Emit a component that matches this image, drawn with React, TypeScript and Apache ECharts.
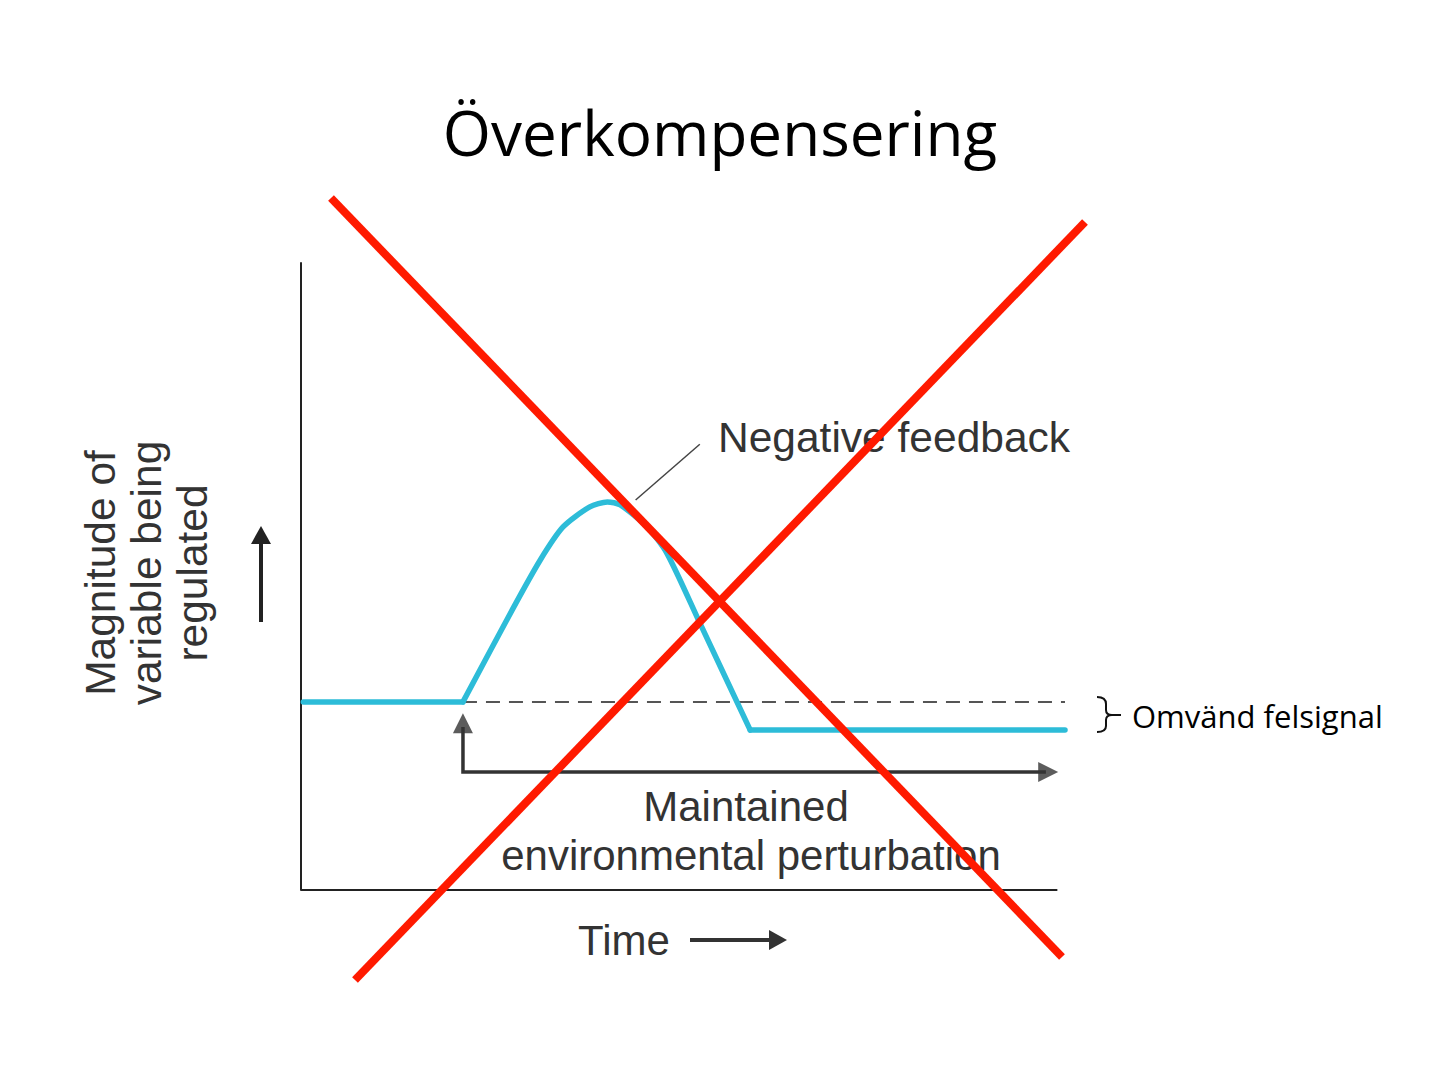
import React, { useEffect, useRef } from "react";
import * as echarts from "echarts";

// ---- data (time units 0..100, magnitude units 0..100) ----
const titleText = "Överkompensering";
const flatBeforeX = [0.3, 21.2];
const flatBeforeY = [30.0, 30.0];
const responseX = [21.2, 27.7, 31.3, 34.3, 37.8, 40.1, 41.8, 45.3, 47.9, 52.2, 58.8];
const responseY = [30.0, 44.8, 52.6, 57.9, 61.1, 61.9, 61.4, 57.9, 53.7, 42.6, 25.5];
const flatAfterX = [58.8, 100];
const flatAfterY = [25.5, 25.5];
const setPointX = [21.2, 100];
const setPointY = [30.0, 30.0];
const baselineX = [0, 99];
const baselineY = [0, 0];
const perturbX = [21.2, 21.2, 97.5];
const perturbY = [26.0, 18.8, 18.8];
const arrowHeadX = [21.2, 97.8];
const arrowHeadY = [26.6, 18.8];
const arrowHeadRot = [0, -90];
const pointerX = [43.8, 52.2];
const pointerY = [62.2, 71.1];

const labelNegative = "Negative feedback";
const labelMaintained = "Maintained";
const labelEnv = "environmental perturbation";
const labelTime = "Time";
const yLabelLines = ["Magnitude of", "variable being", "regulated"];
const labelOmvand = "Omvänd felsignal";

const zip = (xs: number[], ys: number[]) => xs.map((x, i) => [x, ys[i]]);

const BRACE =
  "M1097,697 Q1106,697 1106,704 L1106,710 Q1106,715 1112,715 L1121,715 M1112,715 Q1106,715 1106,720 L1106,726 Q1106,732 1097,732";

export default function App() {
  const ref = useRef<HTMLDivElement>(null);
  useEffect(() => {
    if (!ref.current) return;
    echarts.graphic.registerShape("brace", echarts.graphic.extendPath(BRACE, {}));
    const chart = echarts.init(ref.current, undefined, { renderer: "svg" });
    const sans = "'Liberation Sans', Arial, sans-serif";
    const gray = "#333333";
    const cyan = "#2dbcd8";
    const curveLine = (xs: number[], ys: number[], smooth: number | boolean) => ({
      type: "line",
      data: zip(xs, ys),
      symbol: "none",
      smooth,
      clip: false,
      lineStyle: { color: cyan, width: 5.5, join: "round", cap: "round" },
      z: 3,
    });
    chart.setOption({
      animation: false,
      backgroundColor: "#ffffff",
      grid: { left: 301, right: 378, top: 263, bottom: 187 },
      xAxis: {
        type: "value",
        min: 0,
        max: 100,
        axisLine: { show: false },
        axisTick: { show: false },
        axisLabel: { show: false },
        splitLine: { show: false },
      },
      yAxis: {
        type: "value",
        min: 0,
        max: 100,
        axisLine: { show: true, onZero: false, lineStyle: { color: "#222", width: 2 } },
        axisTick: { show: false },
        axisLabel: { show: false },
        splitLine: { show: false },
      },
      series: [
        {
          type: "line",
          data: zip(baselineX, baselineY),
          symbol: "none",
          lineStyle: { color: "#222", width: 2 },
          z: 2,
        },
        {
          type: "line",
          data: zip(setPointX, setPointY),
          symbol: "none",
          lineStyle: { color: "#555", width: 2, type: [14, 9] },
          z: 2,
        },
        curveLine(flatBeforeX, flatBeforeY, false),
        curveLine(responseX, responseY, 0.25),
        curveLine(flatAfterX, flatAfterY, false),
        {
          type: "line",
          data: zip(pointerX, pointerY),
          symbol: "none",
          lineStyle: { color: "#444", width: 1.5 },
          z: 2,
        },
        {
          type: "line",
          data: zip(perturbX, perturbY),
          symbol: "none",
          lineStyle: { color: gray, width: 3.5, join: "miter" },
          z: 2,
        },
        {
          type: "scatter",
          data: arrowHeadX.map((x, i) => [x, arrowHeadY[i], arrowHeadRot[i]]),
          symbol: "triangle",
          symbolSize: [20, 20],
          symbolRotate: (v: number[]) => v[2],
          itemStyle: { color: gray },
          z: 2,
        },
      ],
      graphic: [
        {
          type: "text",
          x: 720,
          y: 132,
          style: {
            text: titleText,
            font: "62px 'Open Sans', sans-serif",
            fill: "#000",
            textAlign: "center",
            textVerticalAlign: "middle",
          },
        },
        {
          type: "text",
          x: 718,
          y: 437,
          style: { text: labelNegative, font: `42.5px ${sans}`, fill: gray, textAlign: "left", textVerticalAlign: "middle" },
        },
        {
          type: "text",
          x: 746,
          y: 806,
          style: { text: labelMaintained, font: `42px ${sans}`, fill: gray, textAlign: "center", textVerticalAlign: "middle" },
        },
        {
          type: "text",
          x: 751,
          y: 855,
          style: { text: labelEnv, font: `42px ${sans}`, fill: gray, textAlign: "center", textVerticalAlign: "middle" },
        },
        {
          type: "text",
          x: 624,
          y: 940,
          style: { text: labelTime, font: `42px ${sans}`, fill: gray, textAlign: "center", textVerticalAlign: "middle" },
        },
        ...yLabelLines.map((t, i) => ({
          type: "text",
          x: 100 + i * 46,
          y: 573,
          rotation: Math.PI / 2,
          style: { text: t, font: `42.5px ${sans}`, fill: gray, textAlign: "center", textVerticalAlign: "middle" },
        })),
        // y arrow
        { type: "line", shape: { x1: 261, y1: 622, x2: 261, y2: 540 }, style: { stroke: "#222", lineWidth: 4 } },
        { type: "polygon", shape: { points: [[261, 526], [251, 544], [271, 544]] }, style: { fill: "#222" } },
        // time arrow
        { type: "line", shape: { x1: 690, y1: 940, x2: 772, y2: 940 }, style: { stroke: gray, lineWidth: 4 } },
        { type: "polygon", shape: { points: [[787, 940], [769, 930], [769, 950]] }, style: { fill: gray } },
        // brace + label
        { type: "brace", x: 0, y: 0, style: { stroke: "#111", lineWidth: 2, fill: "none" } },
        {
          type: "text",
          x: 1132,
          y: 716,
          style: { text: labelOmvand, font: "31px 'Open Sans', sans-serif", fill: "#000", textAlign: "left", textVerticalAlign: "middle" },
        },
        // red cross
        { type: "line", z: 100, shape: { x1: 331, y1: 198, x2: 1062, y2: 957 }, style: { stroke: "#ff1a00", lineWidth: 8 } },
        { type: "line", z: 100, shape: { x1: 355, y1: 980, x2: 1085, y2: 222 }, style: { stroke: "#ff1a00", lineWidth: 8 } },
      ],
    });
    return () => chart.dispose();
  }, []);
  return (
    <div
      ref={ref}
      style={{ position: "fixed", left: 0, top: 0, width: 1443, height: 1077, background: "#fff" }}
    />
  );
}
